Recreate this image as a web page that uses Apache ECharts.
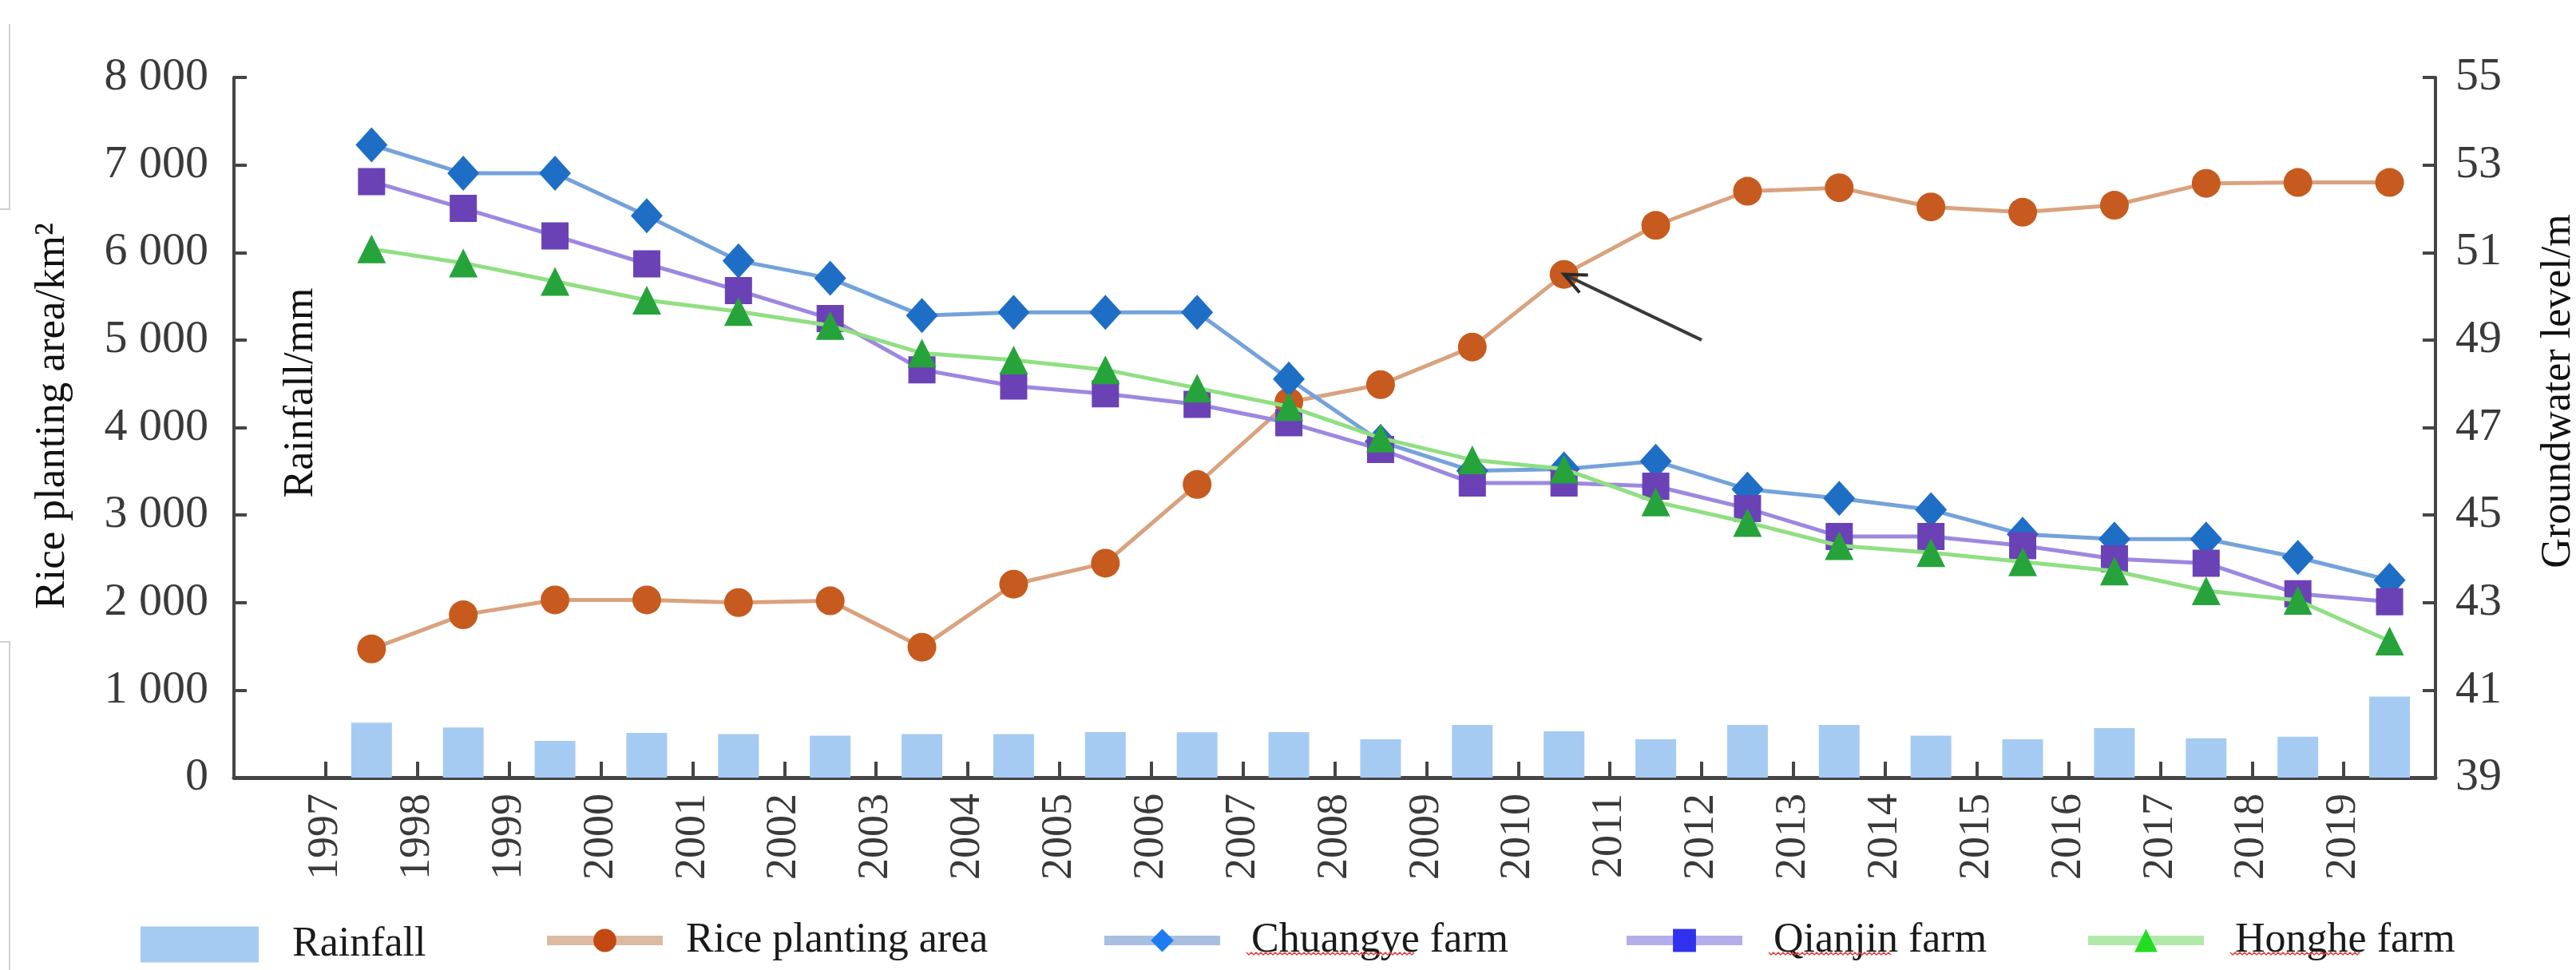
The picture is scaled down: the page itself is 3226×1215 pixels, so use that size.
<!DOCTYPE html>
<html>
<head>
<meta charset="utf-8">
<script src="https://cdn.jsdelivr.net/npm/echarts@6/dist/echarts.min.js"></script>
<style>
  html, body { margin: 0; padding: 0; background: #ffffff; }
  #chart { width: 3226px; height: 1215px; }
</style>
</head>
<body>
<div id="chart"></div>
<script>
// Years shown on the time axis
const years = ['1997','1998','1999','2000','2001','2002','2003','2004','2005','2006','2007','2008',
               '2009','2010','2011','2012','2013','2014','2015','2016','2017','2018','2019'];

// Annual rainfall (mm)
const rainfall = [627, 572, 419, 511, 498, 480, 498, 498, 520, 517, 520, 437,
                  602, 529, 437, 602, 602, 480, 437, 566, 450, 468, 927];

// Rice planting area (km²)
const riceArea = [1470, 1860, 2030, 2030, 2000, 2020, 1490, 2210, 2450, 3350, 4290, 4490,
                  4920, 5750, 6310, 6700, 6740, 6520, 6460, 6540, 6790, 6800, 6800];

// Groundwater level (m) at three farms
const chuangye = [53.46, 52.81, 52.81, 51.84, 50.81, 50.41, 49.56, 49.63, 49.63, 49.63, 48.11, 46.68,
                  46.01, 46.05, 46.23, 45.59, 45.38, 45.12, 44.56, 44.45, 44.45, 44.03, 43.51];
const qianjin  = [52.62, 52.01, 51.38, 50.74, 50.13, 49.49, 48.32, 47.95, 47.77, 47.53, 47.11, 46.50,
                  45.73, 45.73, 45.66, 45.15, 44.51, 44.51, 44.30, 44.00, 43.90, 43.20, 43.02];
const honghe   = [51.08, 50.76, 50.34, 49.91, 49.65, 49.33, 48.70, 48.54, 48.32, 47.90, 47.48, 46.76,
                  46.26, 46.05, 45.30, 44.83, 44.30, 44.14, 43.93, 43.72, 43.27, 43.05, 42.12];

// Axis ranges
const areaAxis  = { min: 0, max: 8000, step: 1000 };
const levelAxis = { min: 39, max: 55 };

// Arrow annotation: points at the 2010 rice area, tail sits at the 2012 year mark
const arrowTarget = '2010';
const arrowTail = { year: '2012', area: 5000 };

// One empty slot before the first year; year labels sit on slot boundaries
const slots = [''].concat(years);
const boundaryLabels = [''].concat(years, [' ']);

const SERIF = '"Liberation Serif", "Times New Roman", serif';
const LEGEND_FONT = 52;
const pairs = (vals) => years.map((y, i) => [y, vals[i]]);
const spaced = (v) => String(v).replace(/\B(?=(\d{3})+(?!\d))/g, ' ');

const chart = echarts.init(document.getElementById('chart'), null, { renderer: 'canvas' });

const axisLineStyle = { color: '#454545', width: 4 };

// Legend layout: each entry has its own block so the spacing can vary
const legendLayout = {
  'Rainfall':           { left: 176,  itemWidth: 148, itemHeight: 45, top: 1157, textPad: 37 },
  'Rice planting area': { left: 679,  itemWidth: 145, itemHeight: 36, top: 1152, textPad: 24 },
  'Chuangye farm':      { left: 1377, itemWidth: 145, itemHeight: 36, top: 1152, textPad: 34 },
  'Qianjin farm':       { left: 2031, itemWidth: 145, itemHeight: 36, top: 1152, textPad: 34 },
  'Honghe farm':        { left: 2609, itemWidth: 145, itemHeight: 36, top: 1152, textPad: 34 }
};

function legendFor(entry) {
  const L = legendLayout[entry.name];
  return {
    data: [entry],
    left: L.left, top: L.top,
    padding: 0,
    itemWidth: L.itemWidth, itemHeight: L.itemHeight,
    selectedMode: false,
    textStyle: { fontFamily: SERIF, fontSize: LEGEND_FONT, color: '#1a1a1a', padding: [0, 0, 0, L.textPad] }
  };
}

const option = {
  animation: false,
  backgroundColor: '#ffffff',
  grid: { left: 293, right: 176, top: 97, bottom: 241, containLabel: false, outerBoundsMode: 'none' },
  xAxis: [
    {
      type: 'category',
      data: slots,
      boundaryGap: true,
      position: 'bottom',
      axisLine: { show: true, lineStyle: { color: '#454545', width: 5 } },
      axisTick: { show: true, inside: true, length: 20, interval: 0, alignWithLabel: false,
                  lineStyle: { color: '#454545', width: 4 } },
      axisLabel: { show: false },
      splitLine: { show: false }
    },
    {
      type: 'category',
      data: boundaryLabels,
      boundaryGap: false,
      position: 'bottom',
      axisLine: { show: false },
      axisTick: { show: false },
      axisLabel: { show: true, interval: 0, rotate: 90, margin: 20,
                   fontFamily: SERIF, fontSize: 54, color: '#3a3a3a' },
      splitLine: { show: false }
    }
  ],
  yAxis: [
    {
      type: 'value',
      position: 'left',
      min: areaAxis.min, max: areaAxis.max, interval: areaAxis.step,
      axisLine: { show: true, lineStyle: axisLineStyle },
      axisTick: { show: true, inside: true, length: 16, lineStyle: axisLineStyle },
      axisLabel: { margin: 32, fontFamily: SERIF, fontSize: 58, color: '#3a3a3a', formatter: spaced },
      splitLine: { show: false }
    },
    {
      type: 'value',
      position: 'right',
      min: levelAxis.min, max: levelAxis.max,
      alignTicks: true,
      axisLine: { show: true, lineStyle: axisLineStyle },
      axisTick: { show: true, inside: true, length: 16, lineStyle: axisLineStyle },
      axisLabel: { margin: 25, fontFamily: SERIF, fontSize: 58, color: '#3a3a3a' },
      splitLine: { show: false }
    }
  ],
  legend: [
    legendFor({ name: 'Rainfall', icon: 'rect', itemStyle: { color: '#a6cbf3' } }),
    legendFor({ name: 'Rice planting area', itemStyle: { color: '#c24a12' }, lineStyle: { color: '#dcbba3', width: 12 } }),
    legendFor({ name: 'Chuangye farm', itemStyle: { color: '#1f7cf0' }, lineStyle: { color: '#a9bfe2', width: 12 } }),
    legendFor({ name: 'Qianjin farm', itemStyle: { color: '#3030ee' }, lineStyle: { color: '#b3aee9', width: 12 } }),
    legendFor({ name: 'Honghe farm', itemStyle: { color: '#22dd22' }, lineStyle: { color: '#b2e9aa', width: 12 } })
  ],
  series: [
    {
      name: 'Rainfall', type: 'bar', xAxisIndex: 0, yAxisIndex: 0,
      barWidth: 51, itemStyle: { color: '#a6cbf3' },
      data: pairs(rainfall), z: 1
    },
    {
      name: 'Rice planting area', type: 'line', xAxisIndex: 0, yAxisIndex: 0,
      symbol: 'circle', symbolSize: 36,
      lineStyle: { color: '#d9a27e', width: 5 },
      itemStyle: { color: '#c75a1e' },
      data: pairs(riceArea), z: 2
    },
    {
      name: 'Chuangye farm', type: 'line', xAxisIndex: 0, yAxisIndex: 1,
      symbol: 'diamond', symbolSize: [40, 44],
      lineStyle: { color: '#74a2da', width: 5 },
      itemStyle: { color: '#1e6ec6' },
      data: pairs(chuangye), z: 3
    },
    {
      name: 'Qianjin farm', type: 'line', xAxisIndex: 0, yAxisIndex: 1,
      symbol: 'rect', symbolSize: 34,
      lineStyle: { color: '#9d88e0', width: 5 },
      itemStyle: { color: '#6a42b6' },
      data: pairs(qianjin), z: 4
    },
    {
      name: 'Honghe farm', type: 'line', xAxisIndex: 0, yAxisIndex: 1,
      symbol: 'triangle', symbolSize: 36,
      lineStyle: { color: '#90df82', width: 5 },
      itemStyle: { color: '#27a33b' },
      data: pairs(honghe), z: 5
    }
  ]
};

chart.setOption(option);

// Pointer arrow, placed through the chart's own scales
const headX = chart.convertToPixel({ xAxisIndex: 0 }, arrowTarget);
const headY = chart.convertToPixel({ yAxisIndex: 0 }, riceArea[years.indexOf(arrowTarget)]);
const tailX = chart.convertToPixel({ xAxisIndex: 1 }, arrowTail.year);
const tailY = chart.convertToPixel({ yAxisIndex: 0 }, arrowTail.area);
const ang = Math.atan2(headY - tailY, headX - tailX);
const wing = 30, spread = 0.42;
const wingA = [headX - wing * Math.cos(ang - spread), headY - wing * Math.sin(ang - spread)];
const wingB = [headX - wing * Math.cos(ang + spread), headY - wing * Math.sin(ang + spread)];

function vtitle(text, x, y, size) {
  return {
    type: 'text', x: x, y: y, rotation: Math.PI / 2, z: 10,
    style: { text: text, font: size + 'px ' + SERIF, fill: '#111111',
             align: 'center', verticalAlign: 'middle', textAlign: 'center', textVerticalAlign: 'middle' }
  };
}

// Red wavy spell-check underline below the first word of some legend labels
const measureCtx = document.createElement('canvas').getContext('2d');
measureCtx.font = LEGEND_FONT + 'px ' + SERIF;
function squiggle(name) {
  const L = legendLayout[name];
  const word = name.split(' ')[0];
  const x0 = L.left + L.itemWidth + 5 + L.textPad;
  const x1 = x0 + measureCtx.measureText(word).width;
  const y = L.top + L.itemHeight / 2 + 24;
  const pts = [];
  for (let x = x0, k = 0; x <= x1; x += 3, k++) pts.push([x, y + (k % 2 ? 2 : -1)]);
  return { type: 'polyline', z: 10, shape: { points: pts },
           style: { stroke: '#e0403c', lineWidth: 1.5, fill: null } };
}

chart.setOption({
  graphic: [
    vtitle('Rice planting area/km²', 66, 521, 53),
    vtitle('Rainfall/mm', 377, 492, 52),
    vtitle('Groundwater level/m', 3204, 490, 52),
    {
      type: 'line', z: 20,
      shape: { x1: tailX, y1: tailY, x2: headX, y2: headY },
      style: { stroke: '#3a3a3a', lineWidth: 4 }
    },
    {
      type: 'polyline', z: 20,
      shape: { points: [wingA, [headX, headY], wingB] },
      style: { stroke: '#2a2a2a', lineWidth: 4, fill: null }
    },
    squiggle('Chuangye farm'),
    squiggle('Qianjin farm'),
    squiggle('Honghe farm'),
    // thin frame lines at the left page edge
    { type: 'polyline', z: 0, shape: { points: [[12, 30], [12, 262], [0, 262]] },
      style: { stroke: '#cfcfcf', lineWidth: 2, fill: null } },
    { type: 'polyline', z: 0, shape: { points: [[0, 804], [12, 804], [12, 1215]] },
      style: { stroke: '#cfcfcf', lineWidth: 2, fill: null } }
  ]
});
</script>
</body>
</html>
